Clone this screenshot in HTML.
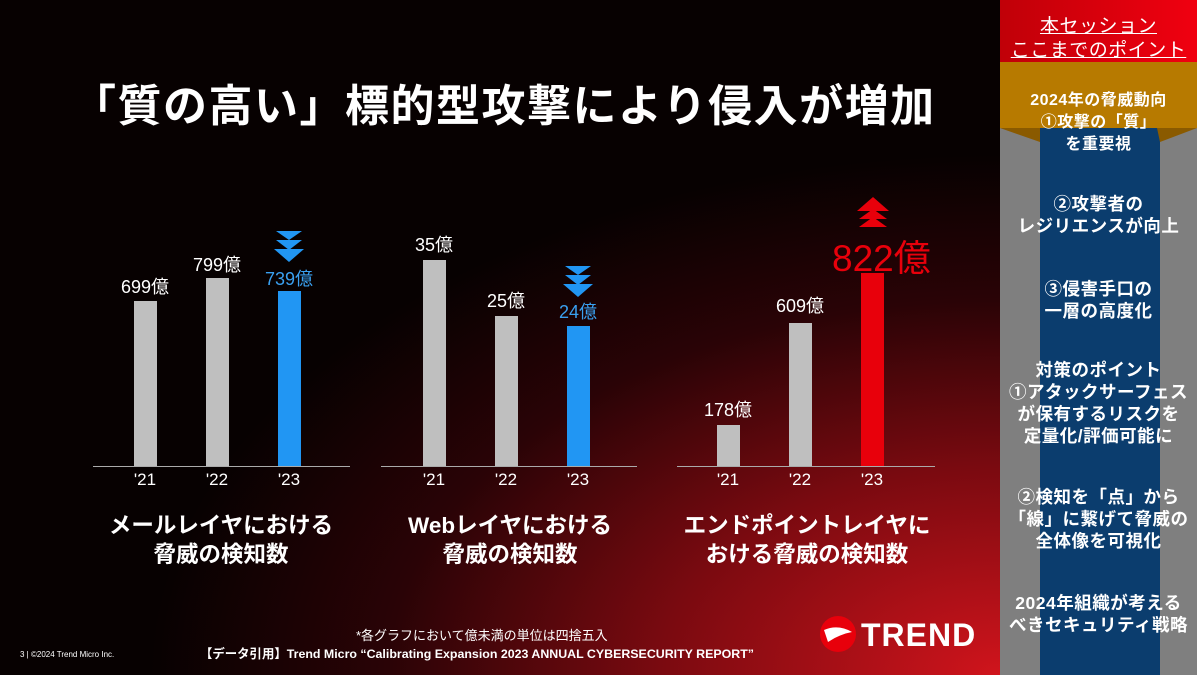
<!DOCTYPE html>
<html><head><meta charset="utf-8"><style>
body{margin:0;width:1197px;height:675px;overflow:hidden;font-family:"Liberation Sans","Noto Sans CJK JP",sans-serif;}
#m{position:absolute;left:0;top:0;width:1000px;height:675px;background:radial-gradient(ellipse 850px 520px at 1000px 675px,#d0141c 0%,#7a0a10 40%,#2a0306 72%,#070101 100%),#050101;overflow:hidden}
.t{position:absolute;color:#fff;white-space:nowrap}
.b{position:absolute;width:23px}
.ax{position:absolute;height:1px;background:#aaa;top:466px}
.lab{position:absolute;color:#fff;font-size:17px;top:470px;width:40px;text-align:center}
.v{position:absolute;color:#fff;font-size:18px;width:80px;text-align:center}
.h{position:absolute;color:#fff;font-weight:bold;font-size:22.5px;text-align:center;line-height:29px;width:340px}
.s{position:absolute;color:#fff;font-weight:bold;font-size:17.5px;text-align:center;width:197px;left:1000px;line-height:22px;white-space:nowrap;letter-spacing:0.5px}
</style></head><body>
<div id="m">
<div class="t" style="left:72px;top:70px;font-size:44px;font-weight:bold;letter-spacing:1.5px">「質の高い」標的型攻撃により侵入が増加</div>

<div class="ax" style="left:93px;width:257px"></div>
<div class="b" style="left:134px;top:301px;height:165px;background:#bfbfbf"></div>
<div class="b" style="left:206px;top:278px;height:188px;background:#bfbfbf"></div>
<div class="b" style="left:278px;top:291px;height:175px;background:#2196f3"></div>
<div class="v" style="left:105px;top:273px">699億</div>
<div class="v" style="left:177px;top:251px">799億</div>
<div class="v" style="left:249px;top:265px;color:#3aa0f0">739億</div>
<div class="lab" style="left:125px">'21</div><div class="lab" style="left:197px">'22</div><div class="lab" style="left:269px">'23</div>

<div class="ax" style="left:381px;width:256px"></div>
<div class="b" style="left:423px;top:260px;height:206px;background:#bfbfbf"></div>
<div class="b" style="left:495px;top:316px;height:150px;background:#bfbfbf"></div>
<div class="b" style="left:567px;top:326px;height:140px;background:#2196f3"></div>
<div class="v" style="left:394px;top:231px">35億</div>
<div class="v" style="left:466px;top:287px">25億</div>
<div class="v" style="left:538px;top:298px;color:#3aa0f0">24億</div>
<div class="lab" style="left:414px">'21</div><div class="lab" style="left:486px">'22</div><div class="lab" style="left:558px">'23</div>

<div class="ax" style="left:677px;width:258px"></div>
<div class="b" style="left:717px;top:425px;height:41px;background:#bfbfbf"></div>
<div class="b" style="left:789px;top:323px;height:143px;background:#bfbfbf"></div>
<div class="b" style="left:861px;top:273px;height:193px;background:#e8000b"></div>
<div class="v" style="left:688px;top:396px">178億</div>
<div class="v" style="left:760px;top:292px">609億</div>
<div class="t" style="left:832px;top:228px;font-size:37px;color:#e8000b">822億</div>
<div class="lab" style="left:708px">'21</div><div class="lab" style="left:780px">'22</div><div class="lab" style="left:852px">'23</div>

<svg style="position:absolute;left:0;top:0" width="1000" height="675">
<g fill="#2196f3"><polygon points="276,231 302,231 289,240"/><polygon points="276,240 302,240 289,250"/><polygon points="274,249 304,249 289,262"/>
<polygon points="565,266 591,266 578,275"/><polygon points="565,275 591,275 578,285"/><polygon points="563,284 593,284 578,297"/></g>
<g fill="#e8000b"><polygon points="857,211 889,211 873,197"/><polygon points="859,219 887,219 873,209"/><polygon points="859,227 887,227 873,217"/></g>
<circle cx="838" cy="634" r="18" fill="#e8000b"/>
<path d="M824 630 Q838 624 852 632 Q840 634 828 642 Z" fill="#fff"/>
</svg>

<div class="h" style="left:51px;top:511px">メールレイヤにおける<br>脅威の検知数</div>
<div class="h" style="left:340px;top:511px">Webレイヤにおける<br>脅威の検知数</div>
<div class="h" style="left:637px;top:511px">エンドポイントレイヤに<br>おける脅威の検知数</div>

<div class="t" style="left:356px;top:625px;font-size:13px">*各グラフにおいて億未満の単位は四捨五入</div>
<div class="t" style="left:200px;top:644px;font-size:12.4px;font-weight:bold">【データ引用】Trend Micro “Calibrating Expansion 2023 ANNUAL CYBERSECURITY REPORT”</div>
<div class="t" style="left:20px;top:650px;font-size:8px">3 | ©2024 Trend Micro Inc.</div>
<div class="t" style="left:861px;top:617px;font-size:32px;font-weight:bold;letter-spacing:1px">TREND</div>
</div>

<div style="position:absolute;left:1000px;top:0;width:197px;height:675px;background:#7f7f7f"></div>
<div style="position:absolute;left:1040px;top:128px;width:120px;height:547px;background:#0b3d6e"></div>
<div style="position:absolute;left:1000px;top:0;width:197px;height:62px;background:linear-gradient(90deg,#c00008,#f00010)"></div>
<div style="position:absolute;left:1000px;top:62px;width:197px;height:66px;background:#b77a00"></div>
<svg style="position:absolute;left:1000px;top:128px" width="197" height="16"><polygon points="0,0 40,14 40,0" fill="#8a5a00"/><polygon points="157,0 197,0 160,14" fill="#8a5a00"/></svg>
<div class="s" style="top:15px;font-weight:normal;font-size:19px;line-height:24px"><span style="text-decoration:underline">本セッション</span><br><span style="text-decoration:underline">ここまでのポイント</span></div>
<div class="s" style="top:90px;font-size:16px;line-height:22px">2024年の脅威動向<br>①攻撃の「質」<br>を重要視</div>
<div class="s" style="top:193px">②攻撃者の<br>レジリエンスが向上</div>
<div class="s" style="top:278px">③侵害手口の<br>一層の高度化</div>
<div class="s" style="top:359px">対策のポイント<br>①アタックサーフェス<br>が保有するリスクを<br>定量化/評価可能に</div>
<div class="s" style="top:486px">②検知を「点」から<br>「線」に繋げて脅威の<br>全体像を可視化</div>
<div class="s" style="top:592px">2024年組織が考える<br>べきセキュリティ戦略</div>
</body></html>
